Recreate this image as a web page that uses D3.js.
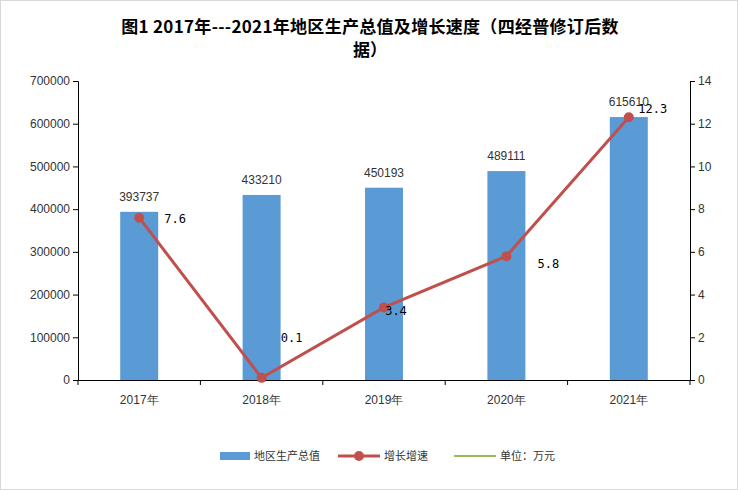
<!DOCTYPE html><html><head><meta charset="utf-8"><script src="https://cdn.jsdelivr.net/npm/d3@7"></script>
<style>body{margin:0;background:#fff}</style></head><body><svg id="c" width="738" height="490"></svg>
<script>
const categories=["2017年","2018年","2019年","2020年","2021年"];
const gdp=[393737,433210,450193,489111,615610];
const growth=[7.6,0.1,3.4,5.8,12.3];
const leftTicks=[0,100000,200000,300000,400000,500000,600000,700000];
const rightTicks=[0,2,4,6,8,10,12,14];
const svg=d3.select("#c");
const L=78,R=690,T=81,B=380;
const labelOffsets=[[36,5],[30,-36],[12,8],[42,12],[24,-4]];
svg.append("rect").attr("x",0.5).attr("y",0.5).attr("width",737).attr("height",489).attr("fill","#fff").attr("stroke","#d9d9d9");
const x=d3.scaleBand().domain(categories).range([L,R]);
const y=d3.scaleLinear().domain([0,700000]).range([B,T]);
const y2=d3.scaleLinear().domain([0,14]).range([B,T]);
const f="'Liberation Sans',Arial,sans-serif";
const ga=svg.append("g").attr("transform",`translate(${L},0)`).call(d3.axisLeft(y).tickValues(leftTicks).tickFormat(d3.format("d")).tickSize(5));
const gb=svg.append("g").attr("transform",`translate(${R},0)`).call(d3.axisRight(y2).tickValues(rightTicks).tickSize(5));
const gx=svg.append("g").attr("transform",`translate(0,${B})`).call(d3.axisBottom(x).tickSize(5).tickSizeOuter(0));
[ga,gb,gx].forEach(g=>{g.selectAll("path,line").attr("stroke","#000");g.selectAll("text").attr("font-family",f).attr("font-size",12).attr("fill","#333");});
gx.selectAll("text").attr("dy","1.3em");
gx.selectAll(".tick line").remove();
gx.selectAll(".t").data(d3.range(categories.length+1)).enter().append("line").attr("x1",i=>L+i*x.step()).attr("x2",i=>L+i*x.step()).attr("y1",0).attr("y2",5).attr("stroke","#000");
const bw=38;
svg.selectAll(".bar").data(gdp).enter().append("rect").attr("x",(d,i)=>x(categories[i])+x.bandwidth()/2-bw/2).attr("y",d=>y(d)).attr("width",bw).attr("height",d=>B-y(d)).attr("fill","#5b9bd5");
svg.selectAll(".bl").data(gdp).enter().append("text").attr("x",(d,i)=>x(categories[i])+x.bandwidth()/2).attr("y",d=>y(d)-11).attr("text-anchor","middle").attr("font-family",f).attr("font-size",12).attr("fill","#333").text(d=>d);
const cx=i=>x(categories[i])+x.bandwidth()/2;
const line=d3.line().x((d,i)=>cx(i)).y(d=>y2(d));
svg.append("path").datum(growth).attr("d",line).attr("fill","none").attr("stroke","#c0504d").attr("stroke-width",3);
svg.selectAll(".pt").data(growth).enter().append("circle").attr("cx",(d,i)=>cx(i)).attr("cy",d=>y2(d)).attr("r",5).attr("fill","#c0504d");
svg.selectAll(".gl").data(growth).enter().append("text").attr("x",(d,i)=>cx(i)+labelOffsets[i][0]).attr("y",(d,i)=>y2(d)+labelOffsets[i][1]).attr("text-anchor","middle").attr("font-family","'DejaVu Sans Mono',monospace").attr("font-size",12).attr("fill","#000").text(d=>d);
const tf="'Noto Sans CJK SC',sans-serif";
svg.append("text").attr("x",370).attr("y",33).attr("text-anchor","middle").attr("font-family",tf).attr("font-weight","bold").attr("font-size",17).attr("letter-spacing",0.3).text("图1  2017年---2021年地区生产总值及增长速度（四经普修订后数");
svg.append("text").attr("x",370).attr("y",56).attr("text-anchor","middle").attr("font-family",tf).attr("font-weight","bold").attr("font-size",17).text("据）");
const lg=svg.append("g").attr("font-family",tf).attr("font-size",11).attr("fill","#333");
lg.append("rect").attr("x",220).attr("y",452).attr("width",30).attr("height",8).attr("fill","#5b9bd5");
lg.append("text").attr("x",254).attr("y",460).text("地区生产总值");
lg.append("line").attr("x1",338).attr("x2",380).attr("y1",456).attr("y2",456).attr("stroke","#c0504d").attr("stroke-width",3);
lg.append("circle").attr("cx",359).attr("cy",456).attr("r",5).attr("fill","#c0504d");
lg.append("text").attr("x",384).attr("y",460).text("增长增速");
lg.append("line").attr("x1",454).attr("x2",496).attr("y1",456).attr("y2",456).attr("stroke","#9bbb59").attr("stroke-width",2);
lg.append("text").attr("x",500).attr("y",460).text("单位：万元");
</script></body></html>
